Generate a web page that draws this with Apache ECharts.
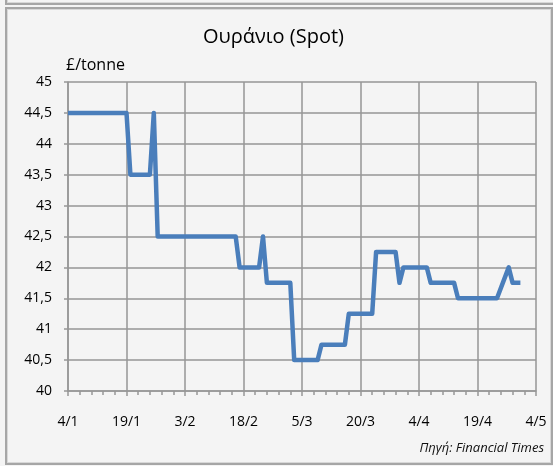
<!DOCTYPE html>
<html>
<head>
<meta charset="utf-8">
<script src="https://cdn.jsdelivr.net/npm/echarts@6/dist/echarts.min.js"></script>
<style>
  html, body { margin: 0; padding: 0; background: #f4f4f4; }
  #wrap { position: relative; width: 553px; height: 466px; overflow: hidden; }
  .frame { position: absolute; border: 2px solid #a6a6a6; box-shadow: inset 0 0 0 1px #d8d8d8; background: #f4f4f4; }
  #chart { position: absolute; left: 0; top: 0; width: 553px; height: 466px; }
</style>
</head>
<body>
<div id="wrap">
  <div class="frame" style="left:5px; top:-20px; width:560px; height:21px;"></div>
  <div class="frame" style="left:5px; top:7px; width:544px; height:454px;"></div>
  <div id="chart"></div>
</div>
<script>
// breakpoints of the spot price line (date, value)
const dates = [
  '2010-01-04', '2010-01-19', '2010-01-20', '2010-01-25', '2010-01-26', '2010-01-27',
  '2010-02-16', '2010-02-17', '2010-02-22', '2010-02-23', '2010-02-24',
  '2010-03-02', '2010-03-03', '2010-03-09', '2010-03-10', '2010-03-16', '2010-03-17',
  '2010-03-23', '2010-03-24', '2010-03-29', '2010-03-30', '2010-03-31',
  '2010-04-06', '2010-04-07', '2010-04-13', '2010-04-14', '2010-04-24',
  '2010-04-27', '2010-04-28', '2010-04-30'
]
const prices = [
  44.5, 44.5, 43.5, 43.5, 44.5, 42.5,
  42.5, 42, 42, 42.5, 41.75,
  41.75, 40.5, 40.5, 40.75, 40.75, 41.25,
  41.25, 42.25, 42.25, 41.75, 42,
  42, 41.75, 41.75, 41.5, 41.5,
  42, 41.75, 41.75
]
const xTickLabels = ['4/1', '19/1', '3/2', '18/2', '5/3', '20/3', '4/4', '19/4', '4/5']

const base = Date.UTC(2010, 0, 4)
const dayOf = s => (Date.parse(s + 'T00:00:00Z') - base) / 86400000
const points = dates.map((d, i) => [dayOf(d), prices[i]])

const FONT = '"Open Sans", "Noto Sans", sans-serif'
const gridColor = '#969696'

const chart = echarts.init(document.getElementById('chart'))
chart.setOption({
  backgroundColor: 'transparent',
  animation: false,
  title: {
    text: 'Ουράνιο (Spot)',
    left: 198,
    top: 22,
    textStyle: { fontFamily: FONT, fontSize: 20, fontWeight: 'normal', color: '#000' },
  },
  graphic: [
    {
      type: 'text', left: 66, top: 57,
      style: { text: '£/tonne', fontFamily: FONT, fontSize: 16, fill: '#000' },
    },
    {
      type: 'text', right: 9, top: 442,
      style: { text: 'Πηγή: Financial Times', fontFamily: FONT, fontSize: 13, fontStyle: 'italic', fill: '#111' },
    },
  ],
  grid: { left: 68, right: 17, top: 82, bottom: 75 },
  xAxis: {
    type: 'value',
    min: 0,
    max: 120,
    interval: 15,
    axisLine: { show: true, onZero: false, lineStyle: { color: gridColor, width: 1.5 } },
    axisTick: { show: true, length: 5, inside: false, lineStyle: { color: gridColor, width: 1.5 } },
    minorTick: { show: true, splitNumber: 5, length: 4, lineStyle: { color: gridColor, width: 1.5 } },
    splitLine: { show: true, lineStyle: { color: gridColor, width: 1.5 } },
    axisLabel: {
      margin: 24,
      fontFamily: FONT, fontSize: 14, color: '#000',
      formatter: v => xTickLabels[Math.round(v / 15)] || '',
    },
  },
  yAxis: {
    type: 'value',
    min: 40,
    max: 45,
    interval: 0.5,
    axisLine: { show: true, lineStyle: { color: gridColor, width: 1.5 } },
    axisTick: { show: true, length: 4, lineStyle: { color: gridColor, width: 1.5 } },
    splitLine: { show: true, lineStyle: { color: gridColor, width: 1.5 } },
    axisLabel: {
      margin: 16,
      fontFamily: FONT, fontSize: 14, color: '#000',
      formatter: v => String(v).replace('.', ','),
    },
  },
  series: [{
    type: 'line',
    data: points,
    showSymbol: false,
    lineStyle: { color: '#4a7ebb', width: 4.5, join: 'round' },
  }],
})
</script>
</body>
</html>
